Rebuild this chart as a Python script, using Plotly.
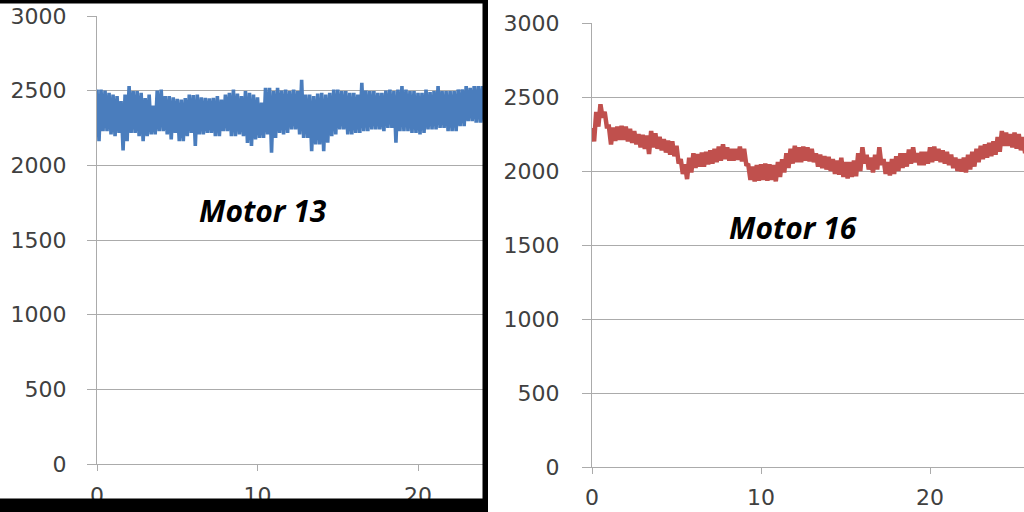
import plotly.graph_objects as go

# ---------------- data ----------------
STEP = 0.25  # sampling interval of the envelope readings (x units)

# Motor 13 (blue): upper / lower envelope of the noisy signal, x = 0 .. 24
m13_upper = [2508, 2508, 2500, 2485, 2474, 2463, 2430, 2474, 2530, 2497,
             2497, 2485, 2450, 2474, 2400, 2500, 2508, 2463, 2463, 2455,
             2445, 2440, 2450, 2474, 2470, 2474, 2455, 2452, 2448, 2452,
             2463, 2440, 2474, 2485, 2508, 2480, 2463, 2497, 2485, 2474,
             2455, 2420, 2519, 2519, 2497, 2519, 2500, 2508, 2497, 2508,
             2497, 2573, 2474, 2474, 2463, 2480, 2485, 2474, 2485, 2508,
             2508, 2497, 2497, 2485, 2485, 2474, 2552, 2500, 2497, 2497,
             2485, 2485, 2500, 2508, 2497, 2508, 2530, 2508, 2497, 2497,
             2485, 2485, 2508, 2490, 2497, 2530, 2497, 2497, 2497, 2497,
             2508, 2508, 2530, 2519, 2530, 2530, 2530]
m13_lower = [2162, 2229, 2229, 2207, 2195, 2217, 2100, 2162, 2217, 2217,
             2195, 2162, 2195, 2207, 2207, 2229, 2229, 2207, 2173, 2217,
             2162, 2162, 2195, 2217, 2130, 2207, 2207, 2217, 2217, 2195,
             2195, 2229, 2229, 2195, 2195, 2207, 2195, 2150, 2130, 2173,
             2184, 2184, 2207, 2084, 2184, 2217, 2207, 2217, 2240, 2240,
             2207, 2184, 2184, 2095, 2140, 2140, 2095, 2151, 2195, 2207,
             2240, 2240, 2207, 2207, 2217, 2217, 2229, 2229, 2240, 2240,
             2240, 2229, 2251, 2251, 2151, 2229, 2229, 2229, 2217, 2217,
             2207, 2217, 2240, 2240, 2240, 2251, 2251, 2229, 2229, 2229,
             2262, 2262, 2296, 2296, 2285, 2285, 2285]

# Motor 16 (red): upper / lower edge of the thick signal band, x = 0 .. 25.5
m16_upper = [2290, 2400, 2451, 2400, 2300, 2293, 2300, 2305, 2300, 2285,
             2270, 2250, 2245, 2240, 2270, 2255, 2230, 2215, 2205, 2200,
             2170, 2080, 2045, 2090, 2120, 2115, 2125, 2130, 2140, 2150,
             2165, 2180, 2160, 2150, 2150, 2165, 2150, 2040, 2030, 2040,
             2045, 2050, 2045, 2040, 2060, 2080, 2120, 2150, 2170, 2160,
             2165, 2160, 2150, 2120, 2110, 2100, 2095, 2080, 2070, 2090,
             2060, 2060, 2070, 2120, 2160, 2110, 2090, 2110, 2160, 2080,
             2060, 2080, 2100, 2120, 2120, 2145, 2160, 2120, 2130, 2130,
             2160, 2165, 2150, 2140, 2130, 2110, 2090, 2080, 2090, 2110,
             2130, 2150, 2170, 2180, 2190, 2200, 2230, 2270, 2260, 2250,
             2260, 2250, 2230]
m16_lower = [2200, 2300, 2360, 2300, 2180, 2203, 2210, 2210, 2200, 2190,
             2180, 2160, 2150, 2115, 2160, 2150, 2140, 2125, 2110, 2100,
             2050, 1980, 1945, 1990, 2020, 2030, 2030, 2045, 2050, 2060,
             2070, 2080, 2070, 2070, 2075, 2065, 2045, 1940, 1930, 1935,
             1940, 1935, 1940, 1930, 1960, 1990, 2020, 2050, 2060, 2060,
             2070, 2065, 2060, 2030, 2020, 2010, 2000, 1980, 1975, 1960,
             1950, 1960, 1965, 2000, 2050, 2010, 1990, 2010, 2040, 1980,
             1970, 1980, 2000, 2020, 2030, 2050, 2060, 2040, 2040, 2050,
             2060, 2070, 2060, 2050, 2040, 2020, 2000, 1995, 1990, 2010,
             2030, 2060, 2080, 2090, 2100, 2110, 2130, 2170, 2170, 2160,
             2150, 2140, 2120]

x_ticks = [0, 10, 20]
y_ticks = [0, 500, 1000, 1500, 2000, 2500, 3000]
y_tick_text = ["0", "500", "1000", "1500", "2000", "2500", "3000"]
labels = ["Motor 13", "Motor 16"]


def zigzag(upper, lower, step):
    xs, ys = [], []
    for i, (u, l) in enumerate(zip(upper, lower)):
        xs += [i * step, i * step + step / 2]
        ys += [u, l]
    return xs, ys


x13, y13 = zigzag(m13_upper, m13_lower, STEP)
x16, y16 = zigzag(m16_upper, m16_lower, STEP)

W, H = 1024, 512
GRID = "#ababab"
TXT = "#404040"
FONT = "DejaVu Sans"

fig = go.Figure()
fig.add_trace(go.Scatter(x=x13, y=y13, mode="lines", xaxis="x", yaxis="y",
                         line=dict(color="#4a7dbd", width=3.6, simplify=False),
                         showlegend=False, hoverinfo="skip"))
fig.add_trace(go.Scatter(x=x16, y=y16, mode="lines", xaxis="x2", yaxis="y2",
                         line=dict(color="#c0504d", width=4.5, simplify=False),
                         showlegend=False, hoverinfo="skip"))


def xax(domain, rng, standoff):
    return dict(domain=domain, range=rng, tickvals=x_ticks, showgrid=False,
                zeroline=False, showline=True, linecolor=GRID, linewidth=1,
                ticks="outside", ticklen=6, tickcolor=GRID, tickwidth=1,
                tickfont=dict(family=FONT, size=22, color=TXT),
                ticklabelstandoff=standoff, fixedrange=True, automargin=False)


def yax(domain, anchor, standoff):
    return dict(domain=domain, range=[0, 3000], tickvals=y_ticks, ticktext=y_tick_text,
                showgrid=True, gridcolor=GRID, gridwidth=1, zeroline=False,
                showline=True, linecolor=GRID, linewidth=1, anchor=anchor,
                ticks="outside", ticklen=9, tickcolor=GRID, tickwidth=1,
                tickfont=dict(family=FONT, size=22, color=TXT),
                ticklabelstandoff=standoff, fixedrange=True, automargin=False)


xa1 = xax([97 / W, 483 / W], [0, 24.05], 6)
xa1["anchor"] = "y"
xa2 = xax([592 / W, 1.0], [0, 25.56], 5)
xa2["anchor"] = "y2"

fig.update_layout(
    width=W, height=H, autosize=False,
    margin=dict(l=0, r=0, t=0, b=0, pad=0, autoexpand=False),
    paper_bgcolor="white", plot_bgcolor="white",
    xaxis=xa1, yaxis=yax([1 - 464 / H, 1 - 16 / H], "x", 16),
    xaxis2=xa2, yaxis2=yax([1 - 467 / H, 1 - 23 / H], "x2", 18),
    annotations=[
        dict(text="<b><i>" + labels[0] + "</i></b>", x=263 / W, y=1 - 210 / H,
             xref="paper", yref="paper", showarrow=False, xanchor="center", yanchor="middle",
             font=dict(family="Open Sans", size=30, color="black")),
        dict(text="<b><i>" + labels[1] + "</i></b>", x=793 / W, y=1 - 227 / H,
             xref="paper", yref="paper", showarrow=False, xanchor="center", yanchor="middle",
             font=dict(family="Open Sans", size=30, color="black")),
    ],
    shapes=[
        # black frame around the left panel
        dict(type="rect", xref="paper", yref="paper", x0=482.5 / W, x1=488 / W, y0=0, y1=1,
             fillcolor="black", line=dict(width=0), layer="above"),
        dict(type="rect", xref="paper", yref="paper", x0=0, x1=488 / W, y0=1 - 3.5 / H, y1=1,
             fillcolor="black", line=dict(width=0), layer="above"),
        dict(type="rect", xref="paper", yref="paper", x0=0, x1=488 / W, y0=0, y1=13.5 / H,
             fillcolor="black", line=dict(width=0), layer="above"),
    ],
)

fig.write_html(
    "out.html",
    config={"responsive": False, "displayModeBar": False},
    post_script="document.body.style.margin='0';document.body.style.padding='0';"
                "document.body.style.overflow='hidden';",
)
